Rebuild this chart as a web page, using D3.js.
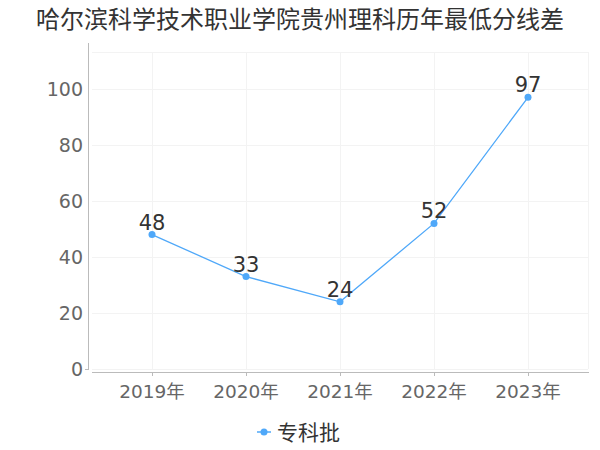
<!DOCTYPE html>
<html><head><meta charset="utf-8">
<script src="https://cdn.jsdelivr.net/npm/d3@7"></script>
<style>body{margin:0;background:#fff}svg{display:block}</style>
</head><body>
<svg id="c" width="600" height="450"></svg>
<script>
const title = "哈尔滨科学技术职业学院贵州理科历年最低分线差";
const categories = ["2019年","2020年","2021年","2022年","2023年"];
const seriesName = "专科批";
const values = [48, 33, 24, 52, 97];
const yTicks = [0, 20, 40, 60, 80, 100];

const svg = d3.select("#c");
const font = "'DejaVu Sans','Noto Sans CJK SC',sans-serif";
const color = "#4fa8f9";

const plot = {left: 92, right: 588, top: 52, bottom: 369};
const x = d3.scalePoint().domain(categories).range([152, 528]);
const y = d3.scaleLinear().domain([0, 113.2]).range([plot.bottom, plot.top]);

svg.append("text").attr("x", 300).attr("y", 28).attr("text-anchor", "middle")
  .attr("font-family", font).attr("font-size", 24).attr("fill", "#333").text(title);

// grid
const g = svg.append("g");
g.selectAll(".hg").data(yTicks.concat([113.2])).enter().append("line")
  .attr("x1", plot.left).attr("x2", plot.right)
  .attr("y1", d => y(d) + 0.5).attr("y2", d => y(d) + 0.5)
  .attr("stroke", "#f3f3f3").attr("stroke-width", 1);
g.selectAll(".vg").data(categories).enter().append("line")
  .attr("x1", d => x(d) + 0.5).attr("x2", d => x(d) + 0.5)
  .attr("y1", plot.top).attr("y2", plot.bottom)
  .attr("stroke", "#f3f3f3");
g.append("line").attr("x1", plot.right + 0.5).attr("x2", plot.right + 0.5)
  .attr("y1", plot.top).attr("y2", plot.bottom).attr("stroke", "#f3f3f3");

// y axis
svg.append("line").attr("x1", 88.5).attr("x2", 88.5).attr("y1", 43).attr("y2", 370)
  .attr("stroke", "#bbb");
svg.append("line").attr("x1", 85).attr("x2", 88).attr("y1", y(0) + 0.5).attr("y2", y(0) + 0.5)
  .attr("stroke", "#bbb");
svg.selectAll(".yl").data(yTicks).enter().append("text")
  .attr("x", 83).attr("y", d => y(d) + 7).attr("text-anchor", "end")
  .attr("font-family", font).attr("font-size", 19).attr("fill", "#666").text(d => d);

// x axis
svg.append("line").attr("x1", plot.left).attr("x2", plot.right + 1).attr("y1", 372.5).attr("y2", 372.5)
  .attr("stroke", "#bbb");
svg.selectAll(".xt").data(categories).enter().append("line")
  .attr("x1", d => x(d) + 0.5).attr("x2", d => x(d) + 0.5).attr("y1", 373).attr("y2", 376)
  .attr("stroke", "#bbb");
svg.selectAll(".xl").data(categories).enter().append("text")
  .attr("x", d => x(d)).attr("y", 398).attr("text-anchor", "middle")
  .attr("font-family", font).attr("font-size", 18.5).attr("fill", "#666").text(d => d);

// line
const data = categories.map((c, i) => ({c, v: values[i]}));
svg.append("path").datum(data)
  .attr("d", d3.line().x(d => x(d.c)).y(d => y(d.v)))
  .attr("fill", "none").attr("stroke", color).attr("stroke-width", 1.3);
svg.selectAll(".pt").data(data).enter().append("circle")
  .attr("cx", d => x(d.c)).attr("cy", d => y(d.v)).attr("r", 3.5).attr("fill", color);
svg.selectAll(".dl").data(data).enter().append("text")
  .attr("x", d => x(d.c)).attr("y", d => y(d.v) - 5).attr("text-anchor", "middle")
  .attr("font-family", font).attr("font-size", 21).attr("fill", "#333").text(d => d.v);

// legend
const lg = svg.append("g").attr("transform", "translate(257,432)");
lg.append("line").attr("x1", 0).attr("x2", 14).attr("y1", 0).attr("y2", 0)
  .attr("stroke", color).attr("stroke-width", 1.5);
lg.append("circle").attr("cx", 7).attr("cy", 0).attr("r", 3.5).attr("fill", color);
lg.append("text").attr("x", 20).attr("y", 8).attr("font-family", font)
  .attr("font-size", 21).attr("fill", "#333").text(seriesName);
</script>
</body></html>
